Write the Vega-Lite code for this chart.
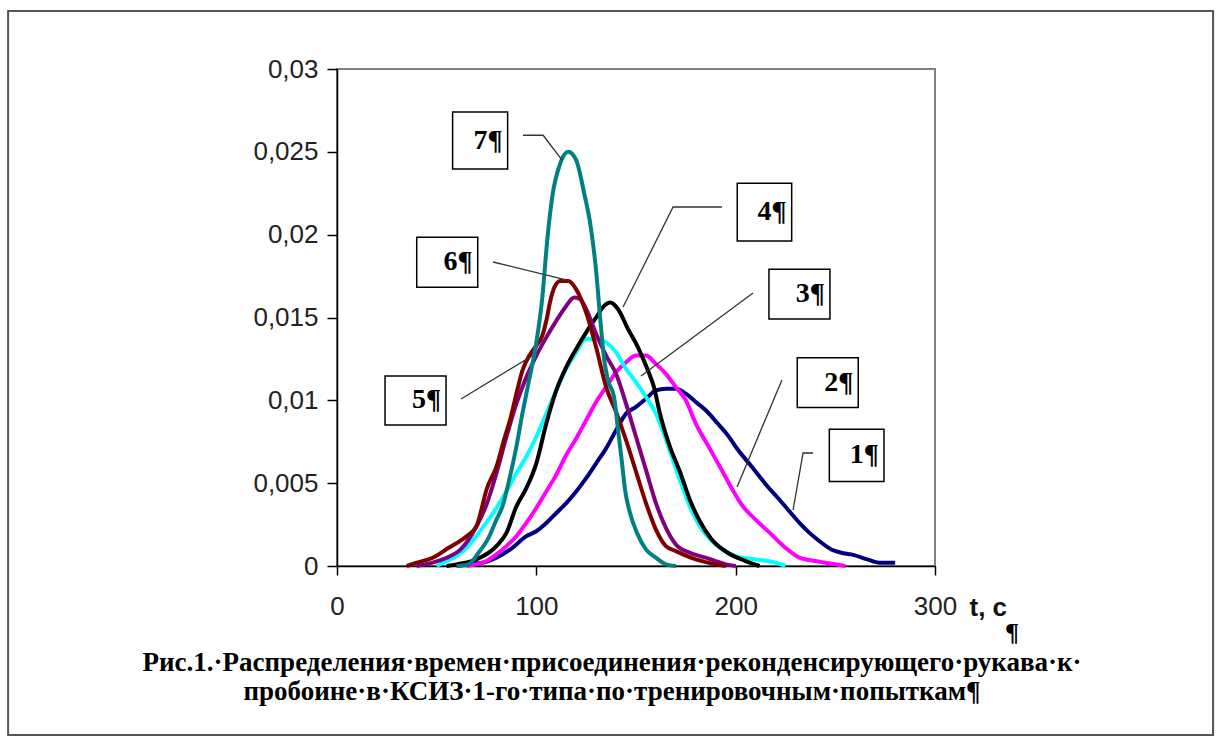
{
  "$schema": "https://vega.github.io/schema/vega-lite/v6.json",
  "width": 598,
  "height": 497,
  "autosize": "none",
  "padding": {"left": 337, "top": 69, "right": 290, "bottom": 181},
  "background": "white",
  "config": {
    "view": {"stroke": "#808080", "strokeWidth": 2},
    "axis": {"grid": false, "domainColor": "#000", "domainWidth": 1.5, "tickColor": "#000", "tickWidth": 1.5, "labelFont": "Liberation Sans", "labelFontSize": 26, "labelColor": "#222", "labelFlush": false}
  },
  "datasets": {
    "one": [{}],
    "curves": [
      {"s":"1","t":60,"v":0},{"s":"1","t":65,"v":0.0001},{"s":"1","t":73,"v":0.0002},{"s":"1","t":80,"v":0.0005},{"s":"1","t":88,"v":0.0011},{"s":"1","t":95,"v":0.0018},{"s":"1","t":100,"v":0.0021},{"s":"1","t":105,"v":0.0026},{"s":"1","t":110,"v":0.0032},{"s":"1","t":115,"v":0.0038},{"s":"1","t":120,"v":0.0045},{"s":"1","t":125,"v":0.0053},{"s":"1","t":130,"v":0.0062},{"s":"1","t":135,"v":0.0071},{"s":"1","t":140,"v":0.0082},{"s":"1","t":145,"v":0.0092},{"s":"1","t":150,"v":0.0096},{"s":"1","t":155,"v":0.0101},{"s":"1","t":160,"v":0.0106},{"s":"1","t":165,"v":0.0107},{"s":"1","t":170,"v":0.0107},{"s":"1","t":175,"v":0.0104},{"s":"1","t":180,"v":0.0099},{"s":"1","t":185,"v":0.0094},{"s":"1","t":191,"v":0.0086},{"s":"1","t":196,"v":0.0079},{"s":"1","t":200,"v":0.0072},{"s":"1","t":208,"v":0.006},{"s":"1","t":216,"v":0.0048},{"s":"1","t":222,"v":0.004},{"s":"1","t":227,"v":0.0033},{"s":"1","t":232,"v":0.0026},{"s":"1","t":237,"v":0.002},{"s":"1","t":241,"v":0.0016},{"s":"1","t":248,"v":0.001},{"s":"1","t":253,"v":0.0008},{"s":"1","t":258,"v":0.0007},{"s":"1","t":266,"v":0.0004},{"s":"1","t":272,"v":0.0002},{"s":"1","t":280,"v":0.0002},
      {"s":"2","t":65,"v":0},{"s":"2","t":70,"v":0.0001},{"s":"2","t":75,"v":0.0003},{"s":"2","t":80,"v":0.0007},{"s":"2","t":85,"v":0.0012},{"s":"2","t":90,"v":0.0018},{"s":"2","t":95,"v":0.0026},{"s":"2","t":100,"v":0.0035},{"s":"2","t":105,"v":0.0045},{"s":"2","t":110,"v":0.0055},{"s":"2","t":115,"v":0.0067},{"s":"2","t":120,"v":0.0077},{"s":"2","t":125,"v":0.0088},{"s":"2","t":130,"v":0.0099},{"s":"2","t":135,"v":0.0108},{"s":"2","t":140,"v":0.0117},{"s":"2","t":145,"v":0.0123},{"s":"2","t":150,"v":0.0127},{"s":"2","t":155,"v":0.0127},{"s":"2","t":160,"v":0.0122},{"s":"2","t":165,"v":0.0116},{"s":"2","t":170,"v":0.0108},{"s":"2","t":175,"v":0.01},{"s":"2","t":180,"v":0.0086},{"s":"2","t":186,"v":0.0073},{"s":"2","t":193,"v":0.0058},{"s":"2","t":198,"v":0.0047},{"s":"2","t":203,"v":0.0037},{"s":"2","t":210,"v":0.0028},{"s":"2","t":218,"v":0.0019},{"s":"2","t":225,"v":0.0011},{"s":"2","t":232,"v":0.0005},{"s":"2","t":240,"v":0.0003},{"s":"2","t":245,"v":0.0002},{"s":"2","t":255,"v":0},
      {"s":"3","t":50,"v":0},{"s":"3","t":55,"v":0.0003},{"s":"3","t":60,"v":0.0006},{"s":"3","t":65,"v":0.0011},{"s":"3","t":73,"v":0.0023},{"s":"3","t":80,"v":0.0035},{"s":"3","t":85,"v":0.0045},{"s":"3","t":90,"v":0.0056},{"s":"3","t":95,"v":0.0066},{"s":"3","t":100,"v":0.0078},{"s":"3","t":105,"v":0.0092},{"s":"3","t":110,"v":0.0106},{"s":"3","t":115,"v":0.0119},{"s":"3","t":120,"v":0.0129},{"s":"3","t":125,"v":0.0137},{"s":"3","t":130,"v":0.0137},{"s":"3","t":135,"v":0.0135},{"s":"3","t":140,"v":0.0129},{"s":"3","t":145,"v":0.0119},{"s":"3","t":150,"v":0.0111},{"s":"3","t":155,"v":0.0102},{"s":"3","t":160,"v":0.0092},{"s":"3","t":166,"v":0.0073},{"s":"3","t":172,"v":0.0052},{"s":"3","t":177,"v":0.0036},{"s":"3","t":182,"v":0.0024},{"s":"3","t":190,"v":0.0013},{"s":"3","t":200,"v":0.0006},{"s":"3","t":210,"v":0.0004},{"s":"3","t":220,"v":0.0002},{"s":"3","t":225,"v":0},
      {"s":"4","t":55,"v":0},{"s":"4","t":60,"v":0.0001},{"s":"4","t":70,"v":0.0004},{"s":"4","t":80,"v":0.0012},{"s":"4","t":85,"v":0.002},{"s":"4","t":90,"v":0.0036},{"s":"4","t":95,"v":0.0047},{"s":"4","t":100,"v":0.0062},{"s":"4","t":105,"v":0.0086},{"s":"4","t":110,"v":0.0106},{"s":"4","t":115,"v":0.012},{"s":"4","t":120,"v":0.0131},{"s":"4","t":125,"v":0.0141},{"s":"4","t":130,"v":0.015},{"s":"4","t":134,"v":0.0157},{"s":"4","t":137,"v":0.0159},{"s":"4","t":141,"v":0.0155},{"s":"4","t":146,"v":0.0143},{"s":"4","t":151,"v":0.0132},{"s":"4","t":156,"v":0.0118},{"s":"4","t":159,"v":0.0108},{"s":"4","t":162,"v":0.0092},{"s":"4","t":167,"v":0.0072},{"s":"4","t":172,"v":0.0057},{"s":"4","t":177,"v":0.004},{"s":"4","t":182,"v":0.0027},{"s":"4","t":188,"v":0.0016},{"s":"4","t":196,"v":0.0008},{"s":"4","t":205,"v":0.0003},{"s":"4","t":212,"v":0},
      {"s":"5","t":40,"v":0},{"s":"5","t":48,"v":0.0002},{"s":"5","t":55,"v":0.0005},{"s":"5","t":62,"v":0.001},{"s":"5","t":70,"v":0.0024},{"s":"5","t":75,"v":0.0037},{"s":"5","t":80,"v":0.0056},{"s":"5","t":85,"v":0.0078},{"s":"5","t":90,"v":0.0098},{"s":"5","t":95,"v":0.0114},{"s":"5","t":100,"v":0.0127},{"s":"5","t":105,"v":0.0138},{"s":"5","t":110,"v":0.0148},{"s":"5","t":115,"v":0.0157},{"s":"5","t":119,"v":0.0162},{"s":"5","t":122,"v":0.0161},{"s":"5","t":125,"v":0.0155},{"s":"5","t":130,"v":0.014},{"s":"5","t":135,"v":0.0127},{"s":"5","t":140,"v":0.0116},{"s":"5","t":145,"v":0.0098},{"s":"5","t":150,"v":0.0078},{"s":"5","t":155,"v":0.0058},{"s":"5","t":160,"v":0.0038},{"s":"5","t":165,"v":0.0023},{"s":"5","t":170,"v":0.0013},{"s":"5","t":177,"v":0.0008},{"s":"5","t":185,"v":0.0005},{"s":"5","t":190,"v":0.0003},{"s":"5","t":195,"v":0.0001},{"s":"5","t":200,"v":0},
      {"s":"6","t":35,"v":0},{"s":"6","t":40,"v":0.0002},{"s":"6","t":48,"v":0.0005},{"s":"6","t":56,"v":0.0011},{"s":"6","t":65,"v":0.0018},{"s":"6","t":70,"v":0.0024},{"s":"6","t":72,"v":0.0032},{"s":"6","t":75,"v":0.0046},{"s":"6","t":80,"v":0.006},{"s":"6","t":84,"v":0.0077},{"s":"6","t":87,"v":0.0089},{"s":"6","t":90,"v":0.0104},{"s":"6","t":93,"v":0.0118},{"s":"6","t":97,"v":0.0128},{"s":"6","t":100,"v":0.0133},{"s":"6","t":103,"v":0.0139},{"s":"6","t":105,"v":0.0148},{"s":"6","t":107,"v":0.016},{"s":"6","t":109,"v":0.0168},{"s":"6","t":112,"v":0.0172},{"s":"6","t":116,"v":0.0172},{"s":"6","t":120,"v":0.0167},{"s":"6","t":125,"v":0.0153},{"s":"6","t":130,"v":0.0132},{"s":"6","t":135,"v":0.0108},{"s":"6","t":140,"v":0.0093},{"s":"6","t":145,"v":0.0076},{"s":"6","t":150,"v":0.0057},{"s":"6","t":155,"v":0.0038},{"s":"6","t":160,"v":0.0022},{"s":"6","t":165,"v":0.0012},{"s":"6","t":170,"v":0.0009},{"s":"6","t":180,"v":0.0004},{"s":"6","t":190,"v":0.0001},{"s":"6","t":195,"v":0},
      {"s":"7","t":60,"v":0},{"s":"7","t":66,"v":0.0001},{"s":"7","t":71,"v":0.0008},{"s":"7","t":76,"v":0.0017},{"s":"7","t":80,"v":0.0028},{"s":"7","t":83,"v":0.0036},{"s":"7","t":86,"v":0.005},{"s":"7","t":90,"v":0.0072},{"s":"7","t":93,"v":0.0092},{"s":"7","t":96,"v":0.011},{"s":"7","t":100,"v":0.0135},{"s":"7","t":103,"v":0.0162},{"s":"7","t":105.5,"v":0.0197},{"s":"7","t":108,"v":0.0223},{"s":"7","t":112,"v":0.0243},{"s":"7","t":116,"v":0.025},{"s":"7","t":120,"v":0.0245},{"s":"7","t":124,"v":0.0225},{"s":"7","t":127,"v":0.0207},{"s":"7","t":130,"v":0.0178},{"s":"7","t":132,"v":0.015},{"s":"7","t":134,"v":0.0125},{"s":"7","t":136,"v":0.0112},{"s":"7","t":139,"v":0.0102},{"s":"7","t":141,"v":0.0082},{"s":"7","t":143,"v":0.0062},{"s":"7","t":144.5,"v":0.0046},{"s":"7","t":147,"v":0.0032},{"s":"7","t":150.5,"v":0.002},{"s":"7","t":155,"v":0.001},{"s":"7","t":160,"v":0.0005},{"s":"7","t":165,"v":0.0001},{"s":"7","t":170,"v":0}
    ],
    "leaders": [
      {"id":"7","k":1,"t":93.3,"v":0.026},{"id":"7","k":2,"t":103.4,"v":0.026},{"id":"7","k":3,"t":112.9,"v":0.0245},
      {"id":"6","k":1,"t":78.3,"v":0.01835},{"id":"6","k":2,"t":115.4,"v":0.01726},
      {"id":"5","k":1,"t":62.2,"v":0.01008},{"id":"5","k":2,"t":97.8,"v":0.01268},
      {"id":"4","k":1,"t":193.1,"v":0.02167},{"id":"4","k":2,"t":168.6,"v":0.02167},{"id":"4","k":3,"t":143.5,"v":0.01563},
      {"id":"3","k":1,"t":208.7,"v":0.01648},{"id":"3","k":2,"t":152.5,"v":0.01147},
      {"id":"2","k":1,"t":223.2,"v":0.01123},{"id":"2","k":2,"t":200.7,"v":0.00477},
      {"id":"1","k":1,"t":238.8,"v":0.00682},{"id":"1","k":2,"t":233.8,"v":0.00682},{"id":"1","k":3,"t":228.8,"v":0.00338}
    ],
    "boxes": [
      {"label":"7¶","t0":58.0,"t1":85.6,"v0":0.02396,"v1":0.0274,"vm":0.02568},
      {"label":"6¶","t0":40.0,"t1":70.6,"v0":0.01682,"v1":0.01984,"vm":0.01833},
      {"label":"5¶","t0":24.1,"t1":54.7,"v0":0.00851,"v1":0.01147,"vm":0.00999},
      {"label":"4¶","t0":200.8,"t1":228.1,"v0":0.01962,"v1":0.0231,"vm":0.02136},
      {"label":"3¶","t0":216.7,"t1":247.3,"v0":0.01491,"v1":0.01791,"vm":0.01641},
      {"label":"2¶","t0":230.9,"t1":261.5,"v0":0.00956,"v1":0.01257,"vm":0.01107},
      {"label":"1¶","t0":247.0,"t1":274.4,"v0":0.0051,"v1":0.00825,"vm":0.00668}
    ]
  },
  "layer": [
    {
      "data": {"name": "one"},
      "mark": {"type": "rect", "fill": null, "filled": false, "stroke": "#555", "strokeWidth": 2, "clip": false},
      "encoding": {
        "x": {"datum": -165, "type": "quantitative", "scale": {"domain": [0, 300], "nice": false, "zero": false}},
        "x2": {"datum": 439.5},
        "y": {"datum": 0.0335, "type": "quantitative", "scale": {"domain": [0, 0.03], "nice": false}},
        "y2": {"datum": -0.0102}
      }
    },
    {
      "data": {"name": "curves"},
      "mark": {"type": "line", "strokeWidth": 4, "strokeJoin": "round", "interpolate": "monotone"},
      "encoding": {
        "x": {"field": "t", "type": "quantitative", "scale": {"domain": [0, 300], "nice": false, "zero": false},
          "axis": {"values": [0, 100, 200, 300], "tickSize": 9, "labelPadding": 18, "title": "t, c", "titleFont": "Liberation Sans", "titleFontWeight": "bold", "titleFontSize": 26, "titleColor": "#111", "titleX": 632, "titleY": 41, "titleAlign": "left", "titleBaseline": "middle", "titleAngle": 0}},
        "y": {"field": "v", "type": "quantitative", "scale": {"domain": [0, 0.03], "nice": false},
          "axis": {"values": [0, 0.005, 0.01, 0.015, 0.02, 0.025, 0.03], "tickSize": 10, "labelPadding": 9, "title": null, "labelExpr": "replace(format(datum.value, '~g'), '.', ',')"}},
        "color": {"field": "s", "type": "nominal", "legend": null,
          "scale": {"domain": ["1","2","3","4","5","6","7"], "range": ["#000080","#FF00FF","#00FFFF","#000000","#800080","#800000","#008080"]}}
      }
    },
    {
      "data": {"name": "leaders"},
      "mark": {"type": "line", "stroke": "#333", "strokeWidth": 1.3},
      "encoding": {
        "x": {"field": "t", "type": "quantitative"},
        "y": {"field": "v", "type": "quantitative"},
        "detail": {"field": "id"},
        "order": {"field": "k"}
      }
    },
    {
      "data": {"name": "boxes"},
      "mark": {"type": "rect", "fill": "white", "stroke": "#000", "strokeWidth": 1.5},
      "encoding": {
        "x": {"field": "t0", "type": "quantitative"},
        "x2": {"field": "t1"},
        "y": {"field": "v0", "type": "quantitative"},
        "y2": {"field": "v1"}
      }
    },
    {
      "data": {"name": "boxes"},
      "mark": {"type": "text", "align": "right", "baseline": "middle", "dx": -5, "font": "Liberation Serif", "fontWeight": "bold", "fontSize": 28, "color": "#000"},
      "encoding": {
        "x": {"field": "t1", "type": "quantitative"},
        "y": {"field": "vm", "type": "quantitative"},
        "text": {"field": "label"}
      }
    },
    {
      "data": {"name": "one"},
      "mark": {"type": "text", "align": "center", "baseline": "middle", "font": "Liberation Serif", "fontWeight": "bold", "fontSize": 27, "color": "#000", "clip": false},
      "encoding": {
        "x": {"datum": 138, "type": "quantitative"},
        "y": {"datum": -0.00586, "type": "quantitative"},
        "text": {"value": "Рис.1.·Распределения·времен·присоединения·реконденсирующего·рукава·к·"}
      }
    },
    {
      "data": {"name": "one"},
      "mark": {"type": "text", "align": "center", "baseline": "middle", "font": "Liberation Serif", "fontWeight": "bold", "fontSize": 27, "color": "#000", "clip": false},
      "encoding": {
        "x": {"datum": 138, "type": "quantitative"},
        "y": {"datum": -0.00761, "type": "quantitative"},
        "text": {"value": "пробоине·в·КСИЗ·1-го·типа·по·тренировочным·попыткам¶"}
      }
    },
    {
      "data": {"name": "one"},
      "mark": {"type": "text", "align": "center", "baseline": "middle", "font": "Liberation Serif", "fontWeight": "bold", "fontSize": 26, "color": "#000", "clip": false},
      "encoding": {
        "x": {"datum": 338.6, "type": "quantitative"},
        "y": {"datum": -0.00404, "type": "quantitative"},
        "text": {"value": "¶"}
      }
    }
  ]
}
